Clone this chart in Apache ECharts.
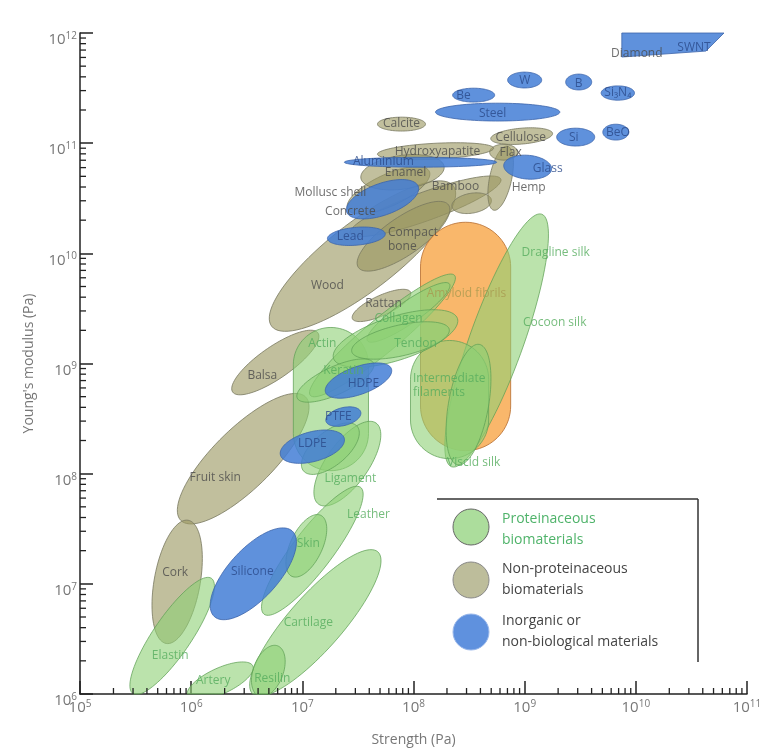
<!DOCTYPE html>
<html><head><meta charset="utf-8">
<script src="https://cdn.jsdelivr.net/npm/echarts@6/dist/echarts.min.js"></script>
<style>html,body{margin:0;padding:0;background:#fff}#c{width:773px;height:756px}</style>
</head><body><div id="c"></div>
<script>
// ---- data (log10 of strength / modulus in Pa) ----
// ellipses: [name, log10 strength centre, log10 modulus centre, semi-axis a (decades), semi-axis b (decades), tilt deg]
const nonProteinaceous = [
  ['Wood', 7.541, 9.975, 1.036, 0.31, 38],
  ['Balsa', 6.757, 9.009, 0.468, 0.144, 35],
  ['Fruit skin', 6.468, 8.136, 0.793, 0.27, 45],
  ['Cork', 5.874, 7.018, 0.568, 0.207, 80],
  ['Bamboo', 8.108, 10.427, 0.721, 0.13, 20],
  ['Bamboo', 8.523, 10.455, 0.18, 0.09, 10],
  ['Compact bone', 7.910, 10.155, 0.495, 0.171, 35],
  ['Rattan', 7.712, 9.527, 0.288, 0.09, 25],
  ['Hemp', 8.784, 10.682, 0.297, 0.099, 78],
  ['Flax', 8.811, 10.918, 0.126, 0.072, 0],
  ['Cellulose', 8.973, 11.064, 0.279, 0.072, 5],
  ['Hydroxyapatite', 8.198, 10.927, 0.523, 0.072, 3],
  ['Calcite', 7.892, 11.173, 0.216, 0.063, 0],
  ['Mollusc shell', 7.775, 10.573, 0.405, 0.144, 25],
  ['Enamel', 7.901, 10.736, 0.378, 0.153, 8]
];
const proteinaceous = [
  ['Cocoon silk', 8.748, 9.209, 1.216, 0.243, 70.5],
  ['Viscid silk', 8.495, 8.627, 0.555, 0.18, 80],
  ['Collagen', 7.721, 9.255, 0.847, 0.153, 40],
  ['Collagen', 7.955, 9.464, 0.45, 0.10, 35],
  ['Tendon', 7.838, 9.227, 0.586, 0.198, 18],
  ['Tendon', 7.883, 9.209, 0.45, 0.14, 13],
  ['Keratin', 7.297, 8.845, 0.378, 0.126, 25],
  ['Ligament', 7.405, 8.091, 0.45, 0.189, 55],
  ['Ligament', 7.252, 8.227, 0.315, 0.153, 40],
  ['Leather', 7.090, 7.300, 0.721, 0.18, 53],
  ['Skin', 7.036, 7.345, 0.306, 0.144, 65],
  ['Cartilage', 7.117, 6.645, 0.856, 0.243, 49],
  ['Resilin', 6.694, 6.209, 0.243, 0.135, 70],
  ['Artery', 6.261, 6.118, 0.324, 0.117, 25],
  ['Elastin', 5.829, 6.527, 0.631, 0.171, 56]
];
const inorganic = [
  ['W', 9.000, 11.573, 0.153, 0.072, 0],
  ['B', 9.486, 11.555, 0.117, 0.072, 0],
  ['Si3N4', 9.838, 11.455, 0.15, 0.065, 0],
  ['BeO', 9.820, 11.100, 0.117, 0.072, 0],
  ['Si', 9.459, 11.055, 0.171, 0.081, 0],
  ['Glass', 9.027, 10.782, 0.216, 0.108, -5],
  ['Steel', 8.757, 11.282, 0.559, 0.081, 0],
  ['Be', 8.541, 11.436, 0.189, 0.063, 0],
  ['Aluminium', 8.063, 10.827, 0.685, 0.045, 0],
  ['Concrete', 7.721, 10.491, 0.342, 0.144, 20],
  ['Lead', 7.486, 10.155, 0.261, 0.081, 5],
  ['HDPE', 7.505, 8.845, 0.315, 0.126, 20],
  ['PTFE', 7.369, 8.518, 0.162, 0.081, 15],
  ['LDPE', 7.090, 8.245, 0.297, 0.135, 15],
  ['Silicone', 6.559, 7.091, 0.523, 0.225, 48]
];
// capsules: [name, group, log strength left, right, log modulus bottom, top]
const capsules = [
  ['Amyloid fibrils', 'amyloid', 8.063, 8.874, 8.209, 10.282],
  ['Intermediate filaments', 'protein', 7.973, 8.676, 8.136, 9.209],
  ['Actin', 'protein', 6.919, 7.595, 8.027, 9.327]
];
// polygon: Diamond / SWNT region [log strength, log modulus]
const diamondSWNT = [[9.874, 12.0], [10.793, 12.0], [10.631, 11.836], [9.874, 11.782]];

// labels: [text, log strength, log modulus]
const darkLabels = [
  ['Diamond', 10.009, 11.809], ['Calcite', 7.892, 11.182], ['Cellulose', 8.964, 11.055],
  ['Flax', 8.874, 10.918], ['Hydroxyapatite', 8.216, 10.927], ['Enamel', 7.928, 10.736],
  ['Mollusc shell', 7.252, 10.555], ['Concrete', 7.432, 10.382], ['Bamboo', 8.378, 10.609],
  ['Hemp', 9.036, 10.600], ['Wood', 7.225, 9.709], ['Rattan', 7.730, 9.545],
  ['Balsa', 6.640, 8.891], ['Fruit skin', 6.216, 7.964], ['Cork', 5.856, 7.100]
];
const darkLabelsLeft = [['Compact\nbone', 7.766, 10.127]];
const greenLabels = [
  ['Dragline silk', 9.279, 10.009], ['Cocoon silk', 9.270, 9.373], ['Collagen', 7.865, 9.409],
  ['Actin', 7.180, 9.182], ['Tendon', 8.018, 9.182], ['Keratin', 7.369, 8.936],
  ['Viscid silk', 8.541, 8.100], ['Ligament', 7.432, 7.955], ['Leather', 7.595, 7.627],
  ['Skin', 7.054, 7.364], ['Cartilage', 7.054, 6.645], ['Elastin', 5.811, 6.345],
  ['Artery', 6.198, 6.118], ['Resilin', 6.730, 6.136]
];
const greenLabelsLeft = [['Intermediate\nfilaments', 7.991, 8.800]];
const amyloidLabels = [['Amyloid fibrils', 8.477, 9.636]];
const blueLabels = [
  ['SWNT', 10.523, 11.864], ['W', 9.000, 11.564], ['B', 9.486, 11.545], ['Si₃N₄', 9.838, 11.455],
  ['BeO', 9.838, 11.100], ['Si', 9.441, 11.055], ['Glass', 9.207, 10.773], ['Steel', 8.712, 11.273],
  ['Be', 8.450, 11.436], ['Aluminium', 7.730, 10.836], ['Lead', 7.432, 10.155], ['HDPE', 7.550, 8.818],
  ['PTFE', 7.324, 8.518], ['LDPE', 7.090, 8.273], ['Silicone', 6.550, 7.109]
];
const xDecades = [5, 6, 7, 8, 9, 10, 11];
const yDecades = [6, 7, 8, 9, 10, 11, 12];
const minorMultipliers = [2, 3, 4, 5, 6, 7, 8, 9];

// ---- geometry helpers (log space) ----
function ellipsePts(e) {
  const [, cx, cy, a, b, ang] = e, th = ang * Math.PI / 180, pts = [];
  for (let k = 0; k < 90; k++) {
    const t = 2 * Math.PI * k / 90, u = a * Math.cos(t), v = b * Math.sin(t);
    pts.push([cx + u * Math.cos(th) - v * Math.sin(th), cy + u * Math.sin(th) + v * Math.cos(th)]);
  }
  return { c: [cx, cy], pts };
}
function capsulePts(c) {
  const [, , x0, x1, y0, y1] = c, r = (x1 - x0) / 2, cx = (x0 + x1) / 2, pts = [];
  const yt = y1 - r, yb = y0 + r;
  for (let k = 0; k <= 40; k++) { const t = Math.PI * k / 40; pts.push([cx + r * Math.cos(t), yt + r * Math.sin(t)]); }
  for (let k = 0; k <= 40; k++) { const t = Math.PI + Math.PI * k / 40; pts.push([cx + r * Math.cos(t), yb + r * Math.sin(t)]); }
  return { c: [cx, (y0 + y1) / 2], pts };
}
const P = v => Math.pow(10, v);

const oliveShapes = nonProteinaceous.map(ellipsePts);
const amyloidShapes = capsules.filter(c => c[1] === 'amyloid').map(capsulePts);
const greenShapes = [ellipsePts(proteinaceous[0]), capsulePts(capsules[1]), ellipsePts(proteinaceous[1]), capsulePts(capsules[2])]
  .concat(proteinaceous.slice(2).map(ellipsePts));
const blueShapes = inorganic.map(ellipsePts).concat([{ c: [10.3, 11.9], pts: diamondSWNT }]);

function shapeSeries(list, fill, stroke) {
  return {
    type: 'custom', coordinateSystem: 'cartesian2d', silent: true, encode: { x: 0, y: 1 },
    data: list.map((s, i) => [P(s.c[0]), P(s.c[1]), i]),
    renderItem(params, api) {
      const s = list[api.value(2)], cs = params.coordSys;
      const pts = s.pts.map(p => {
        const q = api.coord([P(p[0]), P(p[1])]);
        return [Math.min(Math.max(q[0], cs.x), cs.x + cs.width), Math.min(Math.max(q[1], cs.y), cs.y + cs.height)];
      });
      return { type: 'polygon', shape: { points: pts }, style: { fill, stroke, lineWidth: 1 } };
    }
  };
}
const FONT = 'Open Sans';
function labelSeries(list, color, left) {
  return {
    type: 'scatter', silent: true, symbol: 'circle', symbolSize: 1,
    itemStyle: { color: 'rgba(0,0,0,0)' },
    data: list.map(l => ({ name: l[0], value: [P(l[1]), P(l[2])] })),
    label: {
      show: true, position: left ? 'right' : 'inside', distance: 0,
      color, fontSize: 12, fontFamily: FONT + ', DejaVu Sans', lineHeight: 14.5,
      formatter: p => p.name
    },
    emphasis: { disabled: true }, z: 5
  };
}
const xMinor = [], yMinor = [];
xDecades.slice(0, -1).forEach(d => minorMultipliers.forEach(m => xMinor.push([m * P(d), P(yDecades[0])])));
yDecades.slice(0, -1).forEach(d => minorMultipliers.forEach(m => yMinor.push([P(xDecades[0]), m * P(d)])));
function tickSeries(data, horiz) {
  return {
    type: 'custom', coordinateSystem: 'cartesian2d', silent: true, encode: { x: 0, y: 1 }, data, z: 6,
    renderItem(params, api) {
      const q = api.coord([api.value(0), api.value(1)]);
      return { type: 'line', shape: horiz ? { x1: q[0], y1: q[1], x2: q[0] + 6, y2: q[1] } : { x1: q[0], y1: q[1], x2: q[0], y2: q[1] - 6 },
               style: { stroke: '#222', lineWidth: 1.3 } };
    }
  };
}
const powLabel = v => '{b|10}{s|' + Math.round(Math.log10(v)) + '}';
const axisRich = { b: { fontSize: 15, color: '#777', fontFamily: FONT, lineHeight: 18 },
                   s: { fontSize: 10, color: '#777', fontFamily: FONT, lineHeight: 10, verticalAlign: 'top' } };

const chart = echarts.init(document.getElementById('c'));
chart.setOption({
  animation: false,
  textStyle: { fontFamily: FONT },
  grid: { left: 80, right: 26, top: 33, bottom: 62 },
  xAxis: {
    type: 'log', logBase: 10, min: P(xDecades[0]), max: P(xDecades[xDecades.length - 1]),
    splitLine: { show: false },
    axisLine: { lineStyle: { color: '#222', width: 1.5 } },
    axisTick: { inside: true, length: 13, lineStyle: { color: '#222', width: 1.5 } },
    axisLabel: { formatter: powLabel, rich: axisRich, margin: 5 },
    name: 'Strength (Pa)', nameLocation: 'middle', nameGap: 39,
    nameTextStyle: { color: '#777', fontSize: 14, fontFamily: FONT }
  },
  yAxis: {
    type: 'log', logBase: 10, min: P(yDecades[0]), max: P(yDecades[yDecades.length - 1]),
    splitLine: { show: false },
    axisLine: { lineStyle: { color: '#222', width: 1.5 } },
    axisTick: { inside: true, length: 13, lineStyle: { color: '#222', width: 1.5 } },
    axisLabel: { formatter: powLabel, rich: axisRich, margin: 3, padding: [14, 0, 0, 0] },
    name: "Young's modulus (Pa)", nameLocation: 'middle', nameGap: 44,
    nameTextStyle: { color: '#777', fontSize: 14, fontFamily: FONT }
  },
  series: [
    shapeSeries(oliveShapes, 'rgba(155,152,97,0.62)', 'rgba(120,120,95,0.8)'),
    shapeSeries(amyloidShapes, 'rgba(249,177,94,0.92)', 'rgba(190,120,60,0.9)'),
    shapeSeries(greenShapes, 'rgba(141,208,117,0.6)', 'rgba(95,160,85,0.75)'),
    shapeSeries(blueShapes, 'rgba(67,126,214,0.85)', 'rgba(60,100,170,0.8)'),
    labelSeries(darkLabels, '#4a4a4a'),
    labelSeries(darkLabelsLeft, '#4a4a4a', true),
    labelSeries(amyloidLabels, '#a89a50'),
    labelSeries(greenLabels, '#55ad5e'),
    labelSeries(greenLabelsLeft, '#55ad5e', true),
    labelSeries(blueLabels, '#2a4a8a'),
    tickSeries(xMinor, false),
    tickSeries(yMinor, true)
  ],
  graphic: [
    { type: 'line', shape: { x1: 437, y1: 499, x2: 698, y2: 499 }, style: { stroke: '#333', lineWidth: 1.5 } },
    { type: 'line', shape: { x1: 698, y1: 499, x2: 698, y2: 662 }, style: { stroke: '#333', lineWidth: 1.5 } },
    { type: 'circle', shape: { cx: 471, cy: 527, r: 18 }, style: { fill: '#acdd9c', stroke: '#666', lineWidth: 1 } },
    { type: 'circle', shape: { cx: 471, cy: 580, r: 18 }, style: { fill: '#bdbd9b', stroke: '#888', lineWidth: 1 } },
    { type: 'circle', shape: { cx: 471, cy: 632, r: 18 }, style: { fill: '#5f91de', stroke: '#9ab8ea', lineWidth: 1 } },
    { type: 'text', x: 502, y: 530, style: { text: 'Proteinaceous\nbiomaterials', fill: '#4fb36a', fontSize: 14, fontFamily: FONT, lineHeight: 21, verticalAlign: 'middle' } },
    { type: 'text', x: 502, y: 580, style: { text: 'Non-proteinaceous\nbiomaterials', fill: '#444', fontSize: 14, fontFamily: FONT, lineHeight: 21, verticalAlign: 'middle' } },
    { type: 'text', x: 502, y: 632, style: { text: 'Inorganic or\nnon-biological materials', fill: '#444', fontSize: 14, fontFamily: FONT, lineHeight: 21, verticalAlign: 'middle' } }
  ]
});
</script></body></html>
